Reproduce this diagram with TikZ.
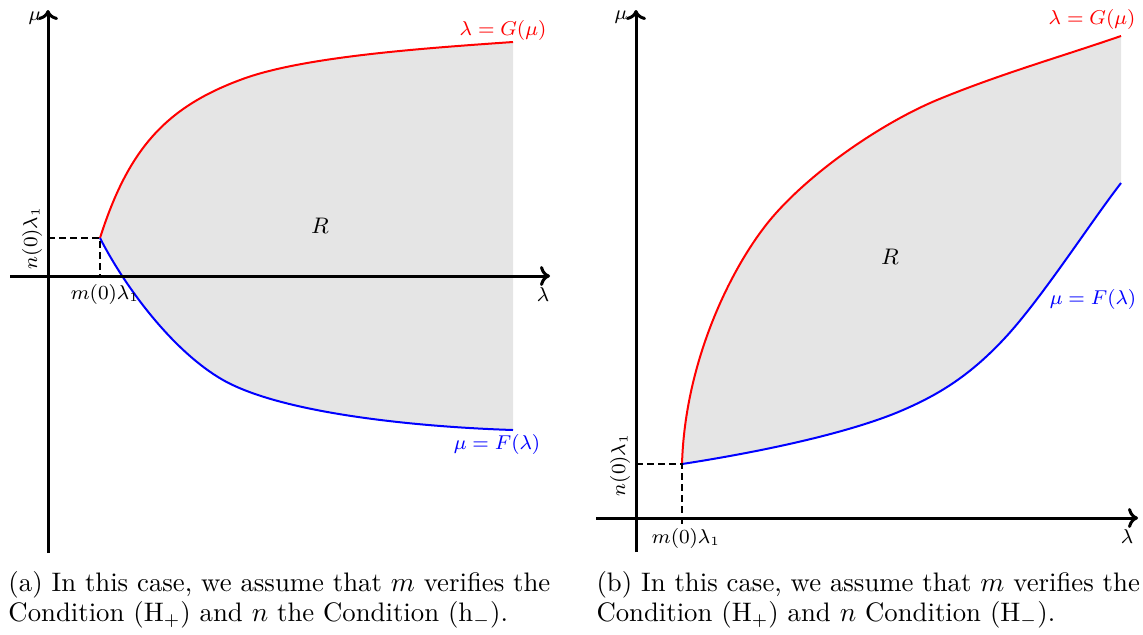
\documentclass[tikz,border=0pt]{standalone}
\usetikzlibrary{arrows.meta}
\begin{document}
\begin{tikzpicture}[x=0.4pt,y=-0.4pt,
  axis/.style={line width=1.2pt,-{To[length=4pt,width=8pt]}},
  gcurve/.style={red,line width=0.8pt},
  fcurve/.style={blue,line width=0.8pt},
  region/.style={fill=gray!20},
  guide/.style={line width=0.8pt,dash pattern=on 2.6pt off 1.8pt},
  lbl/.style={inner sep=0pt,font=\footnotesize},
  captext/.style={anchor=base west,inner sep=0pt,font=\fontsize{10.7}{12.8}\selectfont}]
\useasboundingbox (0,0) rectangle (1143,634);

% ---------- panel (a) ----------
\coordinate (Pa) at (100,238);
\coordinate (Ma) at (240,80);
\coordinate (Ga) at (513,42);
\coordinate (Na) at (223,380);
\coordinate (Fa) at (513,430);
\fill[region] (Pa) .. controls (128,150) and (165,108) .. (Ma)
  .. controls (300,57) and (420,48.5) .. (Ga) -- (Fa)
  .. controls (420,426) and (283,414) .. (Na)
  .. controls (173,351.5) and (125,287) .. (Pa) -- cycle;
\draw[gcurve] (Pa) .. controls (128,150) and (165,108) .. (Ma)
  .. controls (300,57) and (420,48.5) .. (Ga);
\draw[fcurve] (Pa) .. controls (125,287) and (173,351.5) .. (Na)
  .. controls (283,414) and (420,427) .. (Fa);
\coordinate (xa0) at (10,276);
\coordinate (xa1) at (550,276);
\coordinate (ya0) at (48,553);
\coordinate (ya1) at (48,10);
\coordinate (Pay) at (48,238);
\coordinate (Pax) at (100,276);
\draw[guide] (Pay) -- (Pa) -- (Pax);
\draw[axis] (xa0) -- (xa1);
\draw[axis] (ya0) -- (ya1);
\node[lbl] (mua) at (35,18) {$\mu$};
\node[lbl] (lama) at (543,295) {$\lambda$};
\node[lbl,rotate=90] (na) at (32,238) {$n(0)\lambda_{\scriptscriptstyle 1}$};
\node[lbl] (ma) at (105,294) {$m(0)\lambda_{\scriptscriptstyle 1}$};
\node[lbl,red] (Gla) at (503,30) {$\lambda=G(\mu)$};
\node[lbl,blue] (Fla) at (497,444) {$\mu=F(\lambda)$};
\node[lbl,font=\small] (Ra) at (320,226) {$R$};
\node[captext] (ca1) at (8,591) {(a) In this case, we assume that $m$ verifies the};
\node[captext] (ca2) at (8,621) {Condition (H$_+$) and $n$ the Condition (h$_-$).};

% ---------- panel (b) ----------
\coordinate (Pb) at (682,464);
\coordinate (Ub) at (770,220);
\coordinate (Vb) at (937,100);
\coordinate (Gb) at (1121,36);
\coordinate (Wb) at (903,410);
\coordinate (Xb) at (1003,340);
\coordinate (Fb) at (1121,183);
\fill[region] (Pb) .. controls (685,360) and (732,266) .. (Ub)
  .. controls (810,172) and (882,123) .. (Vb)
  .. controls (1000,74) and (1060,57) .. (Gb) -- (Fb)
  .. controls (1090,223) and (1040,301) .. (Xb)
  .. controls (970,375) and (940,394) .. (Wb)
  .. controls (850,433) and (760,452) .. (Pb) -- cycle;
\draw[gcurve] (Pb) .. controls (685,360) and (732,266) .. (Ub)
  .. controls (810,172) and (882,123) .. (Vb)
  .. controls (1000,74) and (1060,57) .. (Gb);
\draw[fcurve] (Pb) .. controls (760,452) and (850,433) .. (Wb)
  .. controls (940,394) and (970,375) .. (Xb)
  .. controls (1040,301) and (1090,223) .. (Fb);
\coordinate (xb0) at (596,518);
\coordinate (xb1) at (1138,518);
\coordinate (yb0) at (636,552);
\coordinate (yb1) at (636,10);
\coordinate (Pby) at (636,464);
\coordinate (Pbx) at (682,528);
\draw[guide] (Pby) -- (Pb) -- (Pbx);
\draw[axis] (xb0) -- (xb1);
\draw[axis] (yb0) -- (yb1);
\node[lbl] (mub) at (621,17) {$\mu$};
\node[lbl] (lamb) at (1127,537) {$\lambda$};
\node[lbl,rotate=90] (nb) at (620,465) {$n(0)\lambda_{\scriptscriptstyle 1}$};
\node[lbl] (mb) at (686,538) {$m(0)\lambda_{\scriptscriptstyle 1}$};
\node[lbl,red] (Glb) at (1092,19) {$\lambda=G(\mu)$};
\node[lbl,blue] (Flb) at (1093,299) {$\mu=F(\lambda)$};
\node[lbl,font=\small] (Rb) at (890,257) {$R$};
\node[captext] (cb1) at (596,591) {(b) In this case, we assume that $m$ verifies the};
\node[captext] (cb2) at (596,621) {Condition (H$_+$) and $n$ Condition (H$_-$).};
\end{tikzpicture}
\end{document}
